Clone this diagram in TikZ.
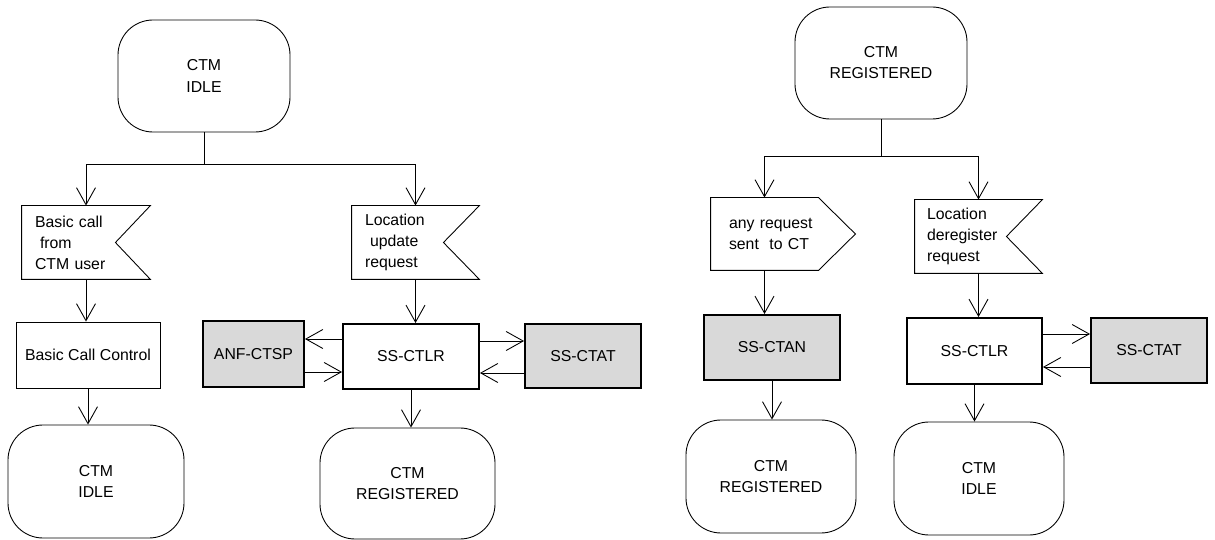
\documentclass[tikz,border=0pt]{standalone}
\usepackage{fontspec}
\setmainfont{Liberation Sans}
\usetikzlibrary{arrows.meta}

\begin{document}
\begin{tikzpicture}[font=\fontsize{9}{12}\selectfont, line width=0.5pt, >={Straight Barb[length=3.4mm,width=3.8mm]}]
	\useasboundingbox (0,0) rectangle (24.3,-10.8);
      \tikzstyle{ctmstate} = [draw, rounded corners=7mm, align=center, minimum width=3.44cm, minimum height=2.24cm]
      \tikzstyle{insig} = [inner sep=0pt, align=left, text width=2.04cm, minimum width=2.56cm, minimum height=1.46cm]
      \tikzstyle{sspart} = [draw, line width=1.1pt, minimum width=2.72cm, minimum height=1.30cm]
      \tikzstyle{extbox} = [sspart, fill=gray!30]
      % left: from CTM IDLE
      \node (idleA) at (4.08,-1.52) [ctmstate] {CTM\\IDLE};
      \node (basic) at (1.72,-4.85) [insig] {Basic call\\\hspace*{1mm}from\\CTM user};
      \node (bcc) at (1.76,-7.10) [draw, minimum width=2.88cm, minimum height=1.32cm] {Basic Call Control};
      \node (idleB) at (1.92,-9.63) [ctmstate, minimum width=3.52cm, minimum height=2.26cm] {CTM\\IDLE};
      \node (locupd) at (8.31,-4.85) [insig, minimum width=2.54cm, text width=2.02cm] {Location\\\hspace*{1mm}update\\request};
      \node (ctlrA) at (8.22,-7.13) [sspart] {SS-CTLR};
      \node (anfA) at (5.07,-7.08) [extbox, minimum width=2.02cm, minimum height=1.32cm] {ANF-CTSP};
      \node (ctatA) at (11.66,-7.12) [extbox, minimum width=2.32cm, minimum height=1.28cm] {SS-CTAT};
      \node (regA) at (8.15,-9.67) [ctmstate, minimum width=3.5cm, minimum height=2.22cm] {CTM\\REGISTERED};
      % right: from CTM REGISTERED
      \node (regT) at (17.62,-1.26) [ctmstate] {CTM\\REGISTERED};
      \node (anyreq) at (15.29,-4.68) [insig, minimum width=2.14cm, minimum height=1.44cm, text width=1.42cm] {\mbox{any request}\\\mbox{sent\ \ to CT}};
      \node (locdereg) at (19.57,-4.73) [insig, minimum width=2.54cm, text width=2.06cm] {Location\\deregister\\request};
      \node (ctan) at (15.44,-6.95) [extbox] {SS-CTAN};
      \node (regB) at (15.42,-9.53) [ctmstate, minimum width=3.4cm, minimum height=2.26cm] {CTM\\REGISTERED};
      \node (ctlrB) at (19.49,-7.02) [sspart, minimum width=2.7cm, minimum height=1.32cm] {SS-CTLR};
      \node (idleC) at (19.58,-9.57) [ctmstate, minimum width=3.4cm, minimum height=2.26cm] {CTM\\IDLE};
      \node (ctatB) at (22.98,-7.01) [extbox, minimum width=2.32cm] {SS-CTAT};
      % signal outlines
      \draw (basic.north west) -- (basic.north east) -- ([xshift=-7mm]basic.east) -- (basic.south east) -- (basic.south west) -- cycle;
      \draw (locupd.north west) -- (locupd.north east) -- ([xshift=-7.2mm]locupd.east) -- (locupd.south east) -- (locupd.south west) -- cycle;
      \draw (locdereg.north west) -- (locdereg.north east) -- ([xshift=-7.2mm]locdereg.east) -- (locdereg.south east) -- (locdereg.south west) -- cycle;
      \draw (anyreq.north west) -- (anyreq.north east) -- ([xshift=7.4mm]anyreq.east) -- (anyreq.south east) -- (anyreq.south west) -- cycle;
      % left connectors
      \coordinate (forkA) at ([yshift=-6.4mm]idleA.south);
      \draw (idleA.south) -- (forkA);
      \draw[->] (forkA) -| (basic.north);
      \draw[->] (forkA) -| (locupd.north);
      \draw[->] (basic.south) -- (basic.south |- bcc.north);
      \draw[->] (bcc.south) -- (bcc.south |- idleB.north);
      \draw[->] (locupd.south) -- (locupd.south |- ctlrA.north);
      \draw[->] (ctlrA.south) -- (ctlrA.south |- regA.north);
      \draw[->] ([yshift=3.5mm]ctlrA.west) coordinate (a1) -- (a1 -| anfA.east);
      \path ([yshift=-3.1mm]ctlrA.west) coordinate (a2);
      \draw[->] (a2 -| anfA.east) -- (a2);
      \draw[->] ([yshift=3.1mm]ctlrA.east) coordinate (a3) -- (a3 -| ctatA.west);
      \path ([yshift=-3.3mm]ctlrA.east) coordinate (a4);
      \draw[->] (a4 -| ctatA.west) -- (a4);
      % right connectors
      \coordinate (forkB) at ([yshift=-7.4mm]regT.south);
      \draw (regT.south) -- (forkB);
      \draw[->] (forkB) -| (anyreq.north);
      \draw[->] (forkB) -| (locdereg.north);
      \draw[->] (anyreq.south) -- (anyreq.south |- ctan.north);
      \draw[->] (ctan.south) -- (ctan.south |- regB.north);
      \draw[->] (locdereg.south) -- (locdereg.south |- ctlrB.north);
      \draw[->] (ctlrB.south) -- (ctlrB.south |- idleC.north);
      \draw[->] ([yshift=3.4mm]ctlrB.east) coordinate (b1) -- (b1 -| ctatB.west);
      \path ([yshift=-3.2mm]ctlrB.east) coordinate (b2);
      \draw[->] (b2 -| ctatB.west) -- (b2);
\end{tikzpicture}
\end{document}
